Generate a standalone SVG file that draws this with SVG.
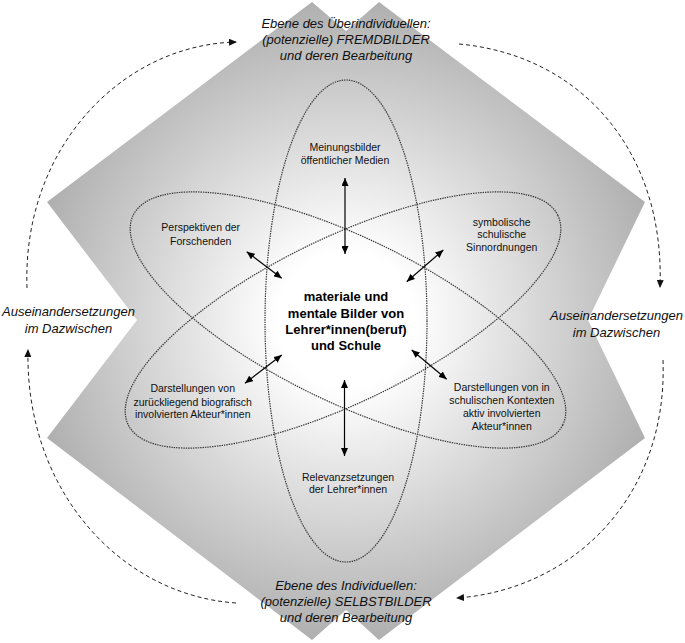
<svg xmlns="http://www.w3.org/2000/svg" width="685" height="643" viewBox="0 0 685 643">
  <defs>
    <radialGradient id="bg" gradientUnits="userSpaceOnUse" cx="346" cy="320" r="340">
      <stop offset="0" stop-color="#ffffff"/>
      <stop offset="0.2" stop-color="#ffffff"/>
      <stop offset="1" stop-color="#a9a9a9"/>
    </radialGradient>
    <marker id="ah" viewBox="0 0 8 7" markerUnits="userSpaceOnUse" markerWidth="8" markerHeight="7" refX="8" refY="3.5" orient="auto-start-reverse">
      <path d="M0,0 L8,3.5 L0,7 z" fill="#000"/>
    </marker>
    <marker id="dh" viewBox="0 0 8 7" markerUnits="userSpaceOnUse" markerWidth="8" markerHeight="7" refX="7" refY="3.5" orient="auto">
      <path d="M0,0 L8,3.5 L0,7 z" fill="#111"/>
    </marker>
  </defs>
  <style>
    .orbit { fill: none; stroke: #333; stroke-width: 1.2; stroke-dasharray: 1.4 1; }
    .arrow { fill: none; stroke: #000; stroke-width: 1.2; marker-start: url(#ah); marker-end: url(#ah); }
    .loop { fill: none; stroke: #222; stroke-width: 1; stroke-dasharray: 4 3; marker-end: url(#dh); }
    .lbl { font-family: "Liberation Sans", Arial, sans-serif; font-size: 10.5px; fill: #111; text-anchor: middle; }
    .lvl { font-family: "Liberation Sans", Arial, sans-serif; font-size: 13px; font-style: italic; fill: #111; text-anchor: middle; }
    .core { font-family: "Liberation Sans", Arial, sans-serif; font-size: 13px; font-weight: bold; fill: #000; text-anchor: middle; }
  </style>

  <g id="background">
    <polygon points="312,2 346,31 379,2 645,202 588,320 645,438 379,640 346,610 312,640 47,438 137,320 47,202" fill="url(#bg)"/>
  </g>

  <g id="orbits">
    <ellipse class="orbit" cx="346" cy="321" rx="81" ry="241"/>
    <ellipse class="orbit" cx="348" cy="320" rx="239" ry="82" transform="rotate(26 348 320)"/>
    <ellipse class="orbit" cx="343" cy="320" rx="239" ry="82" transform="rotate(-26 343 320)"/>
  </g>

  <g id="connectors">
    <line class="arrow" x1="345" y1="178" x2="345" y2="254"/>
    <line class="arrow" x1="344.5" y1="380" x2="344.5" y2="456"/>
    <line class="arrow" x1="246.7" y1="251.7" x2="281.7" y2="278.3"/>
    <line class="arrow" x1="443.3" y1="250" x2="406.7" y2="281.7"/>
    <line class="arrow" x1="281.7" y1="355" x2="245" y2="383.3"/>
    <line class="arrow" x1="411.7" y1="350" x2="446.7" y2="379.3"/>
    <path class="loop" d="M27,288 C22,150 120,45 236,42"/>
    <path class="loop" d="M459,44 C580,55 665,150 660,287"/>
    <path class="loop" d="M663,360 C668,500 570,590 457,598"/>
    <path class="loop" d="M236,603 C120,595 25,490 28,350"/>
  </g>

  <g id="node-fremdbilder">
    <text class="lvl" x="346" y="28">Ebene des Überindividuellen:</text>
    <text class="lvl" x="346" y="44">(potenzielle) FREMDBILDER</text>
    <text class="lvl" x="346" y="60">und deren Bearbeitung</text>
  </g>
  <g id="node-selbstbilder">
    <text class="lvl" x="346" y="590">Ebene des Individuellen:</text>
    <text class="lvl" x="346" y="606">(potenzielle) SELBSTBILDER</text>
    <text class="lvl" x="346" y="622">und deren Bearbeitung</text>
  </g>
  <g id="node-dazwischen-left">
    <text class="lvl" x="68.5" y="316">Auseinandersetzungen</text>
    <text class="lvl" x="68.5" y="333">im Dazwischen</text>
  </g>
  <g id="node-dazwischen-right">
    <text class="lvl" x="616.5" y="320">Auseinandersetzungen</text>
    <text class="lvl" x="616.5" y="337">im Dazwischen</text>
  </g>

  <g id="node-center">
    <text class="core" x="346" y="301">materiale und</text>
    <text class="core" x="346" y="317.5">mentale Bilder von</text>
    <text class="core" x="346" y="334">Lehrer*innen(beruf)</text>
    <text class="core" x="346" y="350">und Schule</text>
  </g>

  <g id="node-medien">
    <text class="lbl" x="345" y="150.5">Meinungsbilder</text>
    <text class="lbl" x="345" y="164">öffentlicher Medien</text>
  </g>
  <g id="node-forschende">
    <text class="lbl" x="200.7" y="231">Perspektiven der</text>
    <text class="lbl" x="200.7" y="244.5">Forschenden</text>
  </g>
  <g id="node-sinnordnungen">
    <text class="lbl" x="501.7" y="225.5">symbolische</text>
    <text class="lbl" x="501.7" y="238">schulische</text>
    <text class="lbl" x="501.7" y="251">Sinnordnungen</text>
  </g>
  <g id="node-biografisch">
    <text class="lbl" x="192.7" y="392">Darstellungen von</text>
    <text class="lbl" x="192.7" y="405.5">zurückliegend biografisch</text>
    <text class="lbl" x="192.7" y="418">involvierten Akteur*innen</text>
  </g>
  <g id="node-aktiv">
    <text class="lbl" x="501.7" y="390.5">Darstellungen von in</text>
    <text class="lbl" x="501.7" y="404">schulischen Kontexten</text>
    <text class="lbl" x="501.7" y="416.5">aktiv involvierten</text>
    <text class="lbl" x="501.7" y="429.5">Akteur*innen</text>
  </g>
  <g id="node-lehrer">
    <text class="lbl" x="348" y="480.5">Relevanzsetzungen</text>
    <text class="lbl" x="348" y="493">der Lehrer*innen</text>
  </g>
</svg>
